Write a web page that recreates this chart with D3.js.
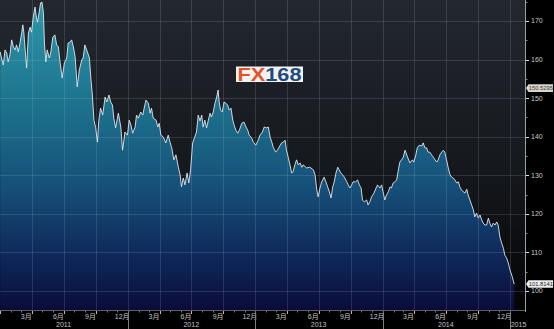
<!DOCTYPE html>
<html><head><meta charset="utf-8">
<script src="https://cdn.jsdelivr.net/npm/d3@7"></script>
<style>
html,body{margin:0;padding:0;background:#000;overflow:hidden}
svg{display:block}
</style></head>
<body>
<svg id="chart" width="554" height="329"></svg>
<script>
// ---------- DATA ----------
const dates2011 = ["2010-12-31","2011-01-04","2011-01-09","2011-01-14","2011-01-19","2011-01-23","2011-01-28","2011-02-02","2011-02-07","2011-02-12","2011-02-16","2011-02-21","2011-02-26","2011-03-03","2011-03-06","2011-03-09","2011-03-12","2011-03-17","2011-03-22","2011-03-27","2011-03-31","2011-04-05","2011-04-10","2011-04-13","2011-04-17","2011-04-22","2011-04-26","2011-04-30","2011-05-04","2011-05-07","2011-05-11","2011-05-15","2011-05-21","2011-05-25","2011-05-31","2011-06-06","2011-06-11","2011-06-16","2011-06-21","2011-06-27","2011-07-03","2011-07-10","2011-07-14","2011-07-19","2011-07-24","2011-07-29","2011-08-03","2011-08-09","2011-08-15","2011-08-22","2011-08-26","2011-08-31","2011-09-07","2011-09-13","2011-09-17","2011-09-21","2011-09-26","2011-10-01","2011-10-06","2011-10-10","2011-10-15","2011-10-21","2011-10-28","2011-11-02","2011-11-08","2011-11-13","2011-11-18","2011-11-22","2011-11-27","2011-12-05","2011-12-12","2011-12-17","2011-12-24","2011-12-31"];
const values2011 = [162.0,160.4,158.6,162.5,161.7,159.4,161.2,165.1,163.3,162.5,163.8,162.0,164.3,167.1,169.0,166.9,163.3,157.8,166.9,168.4,167.1,171.0,173.6,171.5,169.7,172.3,174.7,174.9,172.1,164.3,159.4,162.5,160.4,161.7,165.8,166.4,163.8,163.3,159.1,155.2,159.1,160.4,164.3,164.5,165.1,163.3,160.7,152.9,157.3,159.9,160.4,163.8,162.0,160.4,155.2,151.3,144.3,142.3,138.6,144.3,147.4,145.6,150.3,149.0,150.8,149.0,148.2,144.8,142.3,146.1,142.5,136.5,141.2,140.4];

const dates2012 = ["2012-01-05","2012-01-10","2012-01-15","2012-01-22","2012-01-26","2012-01-31","2012-02-07","2012-02-13","2012-02-17","2012-02-22","2012-02-29","2012-03-05","2012-03-09","2012-03-14","2012-03-22","2012-03-27","2012-03-31","2012-04-05","2012-04-12","2012-04-19","2012-04-26","2012-05-01","2012-05-06","2012-05-12","2012-05-18","2012-05-25","2012-05-30","2012-06-03","2012-06-08","2012-06-13","2012-06-19","2012-06-24","2012-06-29","2012-07-05","2012-07-10","2012-07-16","2012-07-21","2012-07-26","2012-07-31","2012-08-04","2012-08-09","2012-08-14","2012-08-19","2012-08-24","2012-08-28","2012-09-02","2012-09-07","2012-09-12","2012-09-16","2012-09-19","2012-09-23","2012-09-28","2012-10-03","2012-10-08","2012-10-13","2012-10-18","2012-10-23","2012-10-28","2012-11-01","2012-11-06","2012-11-11","2012-11-16","2012-11-23","2012-11-29","2012-12-05","2012-12-10","2012-12-14","2012-12-21","2012-12-26"];
const values2012 = [144.3,143.0,140.9,142.5,145.6,144.8,146.4,145.6,147.4,149.5,148.7,146.1,147.4,144.8,144.3,142.5,143.5,140.4,139.9,138.4,140.4,138.6,137.1,134.0,135.3,132.1,130.1,127.0,129.3,127.5,130.6,128.0,131.4,138.4,139.7,141.2,145.6,144.1,145.6,142.5,144.3,142.3,144.3,146.1,145.1,146.4,148.7,150.3,152.1,149.0,146.9,146.4,149.0,148.7,148.2,146.9,147.4,144.3,143.0,141.7,140.9,141.7,143.5,143.8,142.5,141.7,140.4,139.7,138.6];

const dates2013 = ["2013-01-02","2013-01-09","2013-01-14","2013-01-21","2013-01-26","2013-02-02","2013-02-07","2013-02-12","2013-02-17","2013-02-21","2013-02-28","2013-03-05","2013-03-10","2013-03-17","2013-03-22","2013-03-27","2013-03-31","2013-04-05","2013-04-10","2013-04-15","2013-04-19","2013-04-24","2013-04-29","2013-05-04","2013-05-09","2013-05-14","2013-05-18","2013-05-28","2013-06-06","2013-06-16","2013-06-21","2013-06-26","2013-06-30","2013-07-05","2013-07-10","2013-07-17","2013-07-22","2013-07-27","2013-08-01","2013-08-06","2013-08-10","2013-08-15","2013-08-20","2013-08-25","2013-08-29","2013-09-03","2013-09-08","2013-09-13","2013-09-20","2013-09-24","2013-09-29","2013-10-04","2013-10-08","2013-10-15","2013-10-21","2013-10-26","2013-10-31","2013-11-04","2013-11-09","2013-11-16","2013-11-20","2013-11-25","2013-11-30","2013-12-07","2013-12-13","2013-12-17","2013-12-24","2013-12-29"];
const values2013 = [137.8,139.1,140.4,141.2,142.5,142.3,142.5,139.9,138.6,137.3,136.0,136.5,137.3,138.4,138.6,139.1,136.5,134.7,132.7,130.6,130.9,132.7,134.0,132.7,133.2,132.1,132.7,131.9,132.1,131.4,130.1,126.2,124.4,126.7,128.3,129.5,128.3,127.0,125.7,124.1,126.7,128.3,130.6,132.1,131.4,130.6,130.1,129.5,128.3,127.5,126.7,127.5,128.3,128.3,128.8,127.5,126.7,123.6,123.1,123.6,122.3,123.1,124.4,125.4,126.7,127.5,126.7,127.5];

const dates2014 = ["2014-01-02","2014-01-07","2014-01-12","2014-01-17","2014-01-22","2014-01-26","2014-01-31","2014-02-05","2014-02-10","2014-02-14","2014-02-19","2014-02-24","2014-03-01","2014-03-06","2014-03-12","2014-03-20","2014-03-27","2014-03-31","2014-04-06","2014-04-10","2014-04-16","2014-04-23","2014-04-27","2014-05-02","2014-05-07","2014-05-11","2014-05-16","2014-05-21","2014-05-26","2014-05-31","2014-06-05","2014-06-09","2014-06-14","2014-06-19","2014-06-24","2014-06-28","2014-07-03","2014-07-08","2014-07-13","2014-07-18","2014-07-22","2014-07-27","2014-08-01","2014-08-06","2014-08-10","2014-08-15","2014-08-20","2014-08-25","2014-08-30","2014-09-03","2014-09-08","2014-09-13","2014-09-18","2014-09-22","2014-09-27","2014-10-02","2014-10-07","2014-10-12","2014-10-16","2014-10-21","2014-10-26","2014-10-31","2014-11-04","2014-11-09","2014-11-14","2014-11-19","2014-11-24","2014-11-28","2014-12-03","2014-12-08","2014-12-13","2014-12-17","2014-12-22","2014-12-27","2015-01-01","2015-01-06","2015-01-10","2015-01-13"];
const values2014 = [125.7,123.6,124.9,125.7,127.0,126.7,128.0,128.3,128.8,130.9,133.4,134.0,134.7,136.5,135.0,133.2,134.0,133.4,135.3,137.1,137.8,137.6,138.4,137.1,137.1,136.0,136.0,135.3,134.7,134.0,133.4,134.0,135.3,136.0,136.5,136.0,134.0,131.9,130.1,129.5,129.3,128.8,128.0,128.3,127.0,126.2,125.7,125.4,126.4,124.9,123.6,122.3,121.0,119.2,120.2,118.9,119.7,118.4,117.6,117.1,117.1,118.9,117.6,116.6,117.6,117.1,117.9,117.1,114.0,112.4,111.1,109.3,108.6,107.3,105.4,104.1,102.8,101.8];

const yTicks = [100,110,120,130,140,150,160,170];
const monthLabels = ["3月","6月","9月","12月"];
const yearLabels = ["2011","2012","2013","2014","2015"];
const lastLabel = "101.8141";
const refLabel = {text:"150.5295", value:152.6};

// ---------- BUILD ----------
const parse = d3.timeParse("%Y-%m-%d");
const allDates = [].concat(dates2011,dates2012,dates2013,dates2014);
const allValues = [].concat(values2011,values2012,values2013,values2014);
const data = allDates.map((d,i)=>({date:parse(d), value:allValues[i]}));

const W=554,H=329, plotR=525, plotB=310;
const svg = d3.select("#chart");
const x = d3.scaleTime().domain([new Date(2010,11,30,13,40), new Date(2015,1,13)]).range([0,plotR]);
const y = d3.scaleLinear().domain([95.07,175.44]).range([plotB,0]);

const defs = svg.append("defs");
const bg = defs.append("linearGradient").attr("id","bg").attr("x1",0).attr("y1",0).attr("x2",0).attr("y2",1);
bg.append("stop").attr("offset","0%").attr("stop-color","#23282f");
bg.append("stop").attr("offset","55%").attr("stop-color","#15181d");
bg.append("stop").attr("offset","100%").attr("stop-color","#040405");
const ag = defs.append("linearGradient").attr("id","ag").attr("gradientUnits","userSpaceOnUse")
  .attr("x1",0).attr("y1",0).attr("x2",0).attr("y2",plotB);
[[0,"#2d98ad"],[0.3,"#1e7790"],[0.6,"#16507a"],[0.85,"#0e2457"],[1,"#0a0c38"]].forEach(s=>
  ag.append("stop").attr("offset",s[0]).attr("stop-color",s[1]));

svg.append("rect").attr("x",0).attr("y",0).attr("width",W).attr("height",H).attr("fill","#000");
svg.append("rect").attr("x",0).attr("y",0).attr("width",plotR).attr("height",plotB).attr("fill","url(#bg)");

// area
const area = d3.area().x(d=>x(d.date)).y0(plotB).y1(d=>y(d.value));
svg.append("path").datum(data).attr("d",area).attr("fill","url(#ag)");

// grid
const grid = svg.append("g").attr("stroke","rgba(190,200,210,0.16)").attr("stroke-width",1);
yTicks.forEach(t=>grid.append("line").attr("x1",0).attr("x2",plotR)
  .attr("y1",Math.round(y(t))+0.5).attr("y2",Math.round(y(t))+0.5));
const quarters = d3.timeMonth.every(3).range(new Date(2011,3,1), new Date(2015,1,1));
quarters.forEach(q=>grid.append("line").attr("y1",0).attr("y2",plotB)
  .attr("x1",Math.round(x(q))+0.5).attr("x2",Math.round(x(q))+0.5));

// line
const line = d3.line().x(d=>x(d.date)).y(d=>y(d.value));
svg.append("path").datum(data).attr("d",line).attr("fill","none")
  .attr("stroke","#dfe6ec").attr("stroke-width",0.9).attr("stroke-linejoin","round");

// logo
const logo = svg.append("g");
logo.append("rect").attr("x",236).attr("y",66.5).attr("width",67).attr("height",15.5).attr("fill","#f3f3f1");
const lt = logo.append("text").attr("x",237.5).attr("y",80.5)
  .attr("font-family","Liberation Sans, Arial, sans-serif").attr("font-weight","bold").attr("font-size",18)
  .attr("textLength",64).attr("lengthAdjust","spacingAndGlyphs");
lt.append("tspan").attr("fill","#e2552b").text("FX");
lt.append("tspan").attr("fill","#1f4a7e").text("168");

// right axis
const font = "Liberation Sans, Arial, 'Noto Sans CJK SC', sans-serif";
const ax = svg.append("g");
ax.append("line").attr("x1",plotR+0.5).attr("x2",plotR+0.5).attr("y1",0).attr("y2",plotB+2)
  .attr("stroke","#9aa0a6");
d3.range(100,176,5).forEach(t=>{
  const major = t%10===0;
  ax.append("line").attr("x1",plotR+1).attr("x2",plotR+(major?4:2.5))
    .attr("y1",Math.round(y(t))+0.5).attr("y2",Math.round(y(t))+0.5)
    .attr("stroke",major?"#e0e0e0":"#888");
});
yTicks.forEach(t=>ax.append("text").attr("x",531).attr("y",y(t)+2.5)
  .attr("font-family",font).attr("font-size",7).attr("fill","#c9c9c9").text(t));

// value labels
function valueBox(val, txt, fill, color){
  const yy = y(val);
  const g = svg.append("g");
  g.append("path").attr("d",`M${plotR+1},${yy} L${plotR+3.5},${yy-3.8} L553,${yy-3.8} L553,${yy+3.8} L${plotR+3.5},${yy+3.8} Z`)
    .attr("fill",fill);
  g.append("text").attr("x",plotR+3.8).attr("y",yy+2.2).attr("font-family",font).attr("font-size",5.8)
    .attr("fill",color).text(txt);
}
valueBox(refLabel.value, refLabel.text, "#d6d6cc", "#3a3a3a");
valueBox(data[data.length-1].value, lastLabel, "#ececec", "#222");

// x axis
const xa = svg.append("g");
xa.append("line").attr("x1",0).attr("x2",plotR).attr("y1",plotB+0.5).attr("y2",plotB+0.5).attr("stroke","#5a5f66");
d3.timeMonth.range(new Date(2011,0,1), new Date(2015,1,1)).forEach(m=>{
  const q = m.getMonth()%3===0;
  xa.append("line").attr("x1",Math.round(x(m))+0.5).attr("x2",Math.round(x(m))+0.5)
    .attr("y1",plotB+1).attr("y2",plotB+(q?4:2.5)).attr("stroke",q?"#bbb":"#777");
});
[2011,2012,2013,2014].forEach(yr=>{
  [2,5,8,11].forEach((mo,i)=>{
    const mid = new Date(yr,mo,16);
    xa.append("text").attr("x",x(mid)).attr("y",318.5).attr("text-anchor","middle")
      .attr("font-family",font).attr("font-size",7).attr("fill","#c2c2c2").text(monthLabels[i]);
  });
});
yearLabels.forEach((yl,i)=>{
  const yr = +yl;
  const start = new Date(yr,0,1);
  if(yr>2011) xa.append("line").attr("x1",Math.round(x(start))+0.5).attr("x2",Math.round(x(start))+0.5)
    .attr("y1",plotB+1).attr("y2",H).attr("stroke","#7d7d7d");
  const cx = yr<2015 ? x(new Date(yr,6,1)) : (x(start)+plotR)/2+1;
  xa.append("text").attr("x",cx).attr("y",326.5).attr("text-anchor","middle")
    .attr("font-family",font).attr("font-size",7).attr("fill","#c2c2c2").text(yl);
});
</script>
</body></html>
